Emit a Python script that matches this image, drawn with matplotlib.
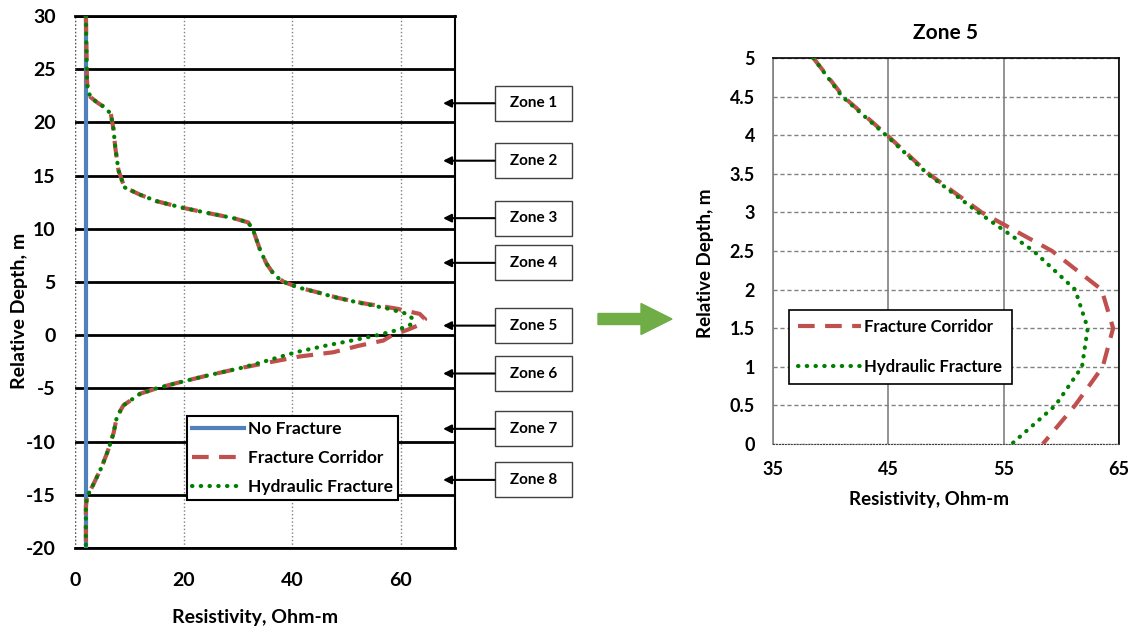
import matplotlib
matplotlib.use("Agg")
import matplotlib.pyplot as plt
from matplotlib.patches import Rectangle, FancyArrow
import numpy as np

plt.rcParams['font.family'] = ['Lato', 'DejaVu Sans']
plt.rcParams['font.weight'] = 'bold'
plt.rcParams['axes.unicode_minus'] = False

# ---- data ----
# upper part of the log (same for both fracture cases)
depth_top = [30, 27, 24, 23.3, 22.4, 21.9, 21.4, 20.8, 19.3, 17.7, 15.5, 13.9,
             13.2, 12.6, 12.0, 11.5, 11.0, 10.6, 9.9, 8.0, 6.7, 5.6]
res_top = [2.0, 2.1, 2.2, 2.3, 2.8, 4.0, 5.5, 6.6, 7.1, 7.4, 8.0, 9.1,
           12.0, 15.0, 19.6, 24.3, 29.2, 31.9, 32.8, 34.1, 35.3, 36.8]

# zone 5 detail
depth_z5 = [5.0, 4.5, 4.0, 3.5, 3.0, 2.5, 2.0, 1.5, 1.0, 0.5, 0.0]
corridor_z5 = [38.5, 41.1, 44.9, 48.5, 53.1, 59.2, 63.5, 64.5, 63.6, 61.2, 58.4]
hydraulic_z5 = [38.5, 41.0, 44.8, 48.4, 52.8, 57.6, 61.2, 62.3, 61.8, 59.5, 55.7]

# lower part of the log
depth_bot = [-0.5, -1.0, -1.6, -2.0, -2.6, -3.1, -3.8, -4.5, -5.0, -5.5, -6.6,
             -7.7, -9.2, -10.8, -12.4, -14.0, -15.2, -16.1, -18.0, -20.0]
corridor_bot = [56.8, 52.2, 47.6, 41.4, 35.3, 30.4, 24.3, 18.7, 15.0, 12.0, 8.9,
                7.7, 7.1, 6.1, 4.9, 3.4, 2.2, 2.0, 2.0, 2.0]
hydraulic_bot = [51.0, 46.0, 40.7, 38.0, 34.0, 30.4, 24.3, 18.7, 15.0, 12.0, 8.9,
                 7.7, 7.1, 6.1, 4.9, 3.4, 2.2, 2.0, 2.0, 2.0]

nofrac_depth = [30, -20]
nofrac_res = [2.0, 2.0]

zone_labels = ['Zone 1', 'Zone 2', 'Zone 3', 'Zone 4',
               'Zone 5', 'Zone 6', 'Zone 7', 'Zone 8']
zone_depths = [21.8, 16.4, 11.0, 6.8, 0.9, -3.6, -8.8, -13.6]

BLUE = '#4F81BD'
RED = '#C0504D'
GREEN = '#008000'

depth_all = depth_top + depth_z5 + depth_bot
corridor_all = res_top + corridor_z5 + corridor_bot
hydraulic_all = res_top + hydraulic_z5 + hydraulic_bot

fig = plt.figure(figsize=(11.35, 6.32), dpi=100)

# ---- left plot: full log ----
ax = fig.add_axes([0.0661, 0.1329, 0.3348, 0.8418])
ax.plot(nofrac_res, nofrac_depth, color=BLUE, lw=3, label='No Fracture', zorder=4)
ax.plot(corridor_all, depth_all, color=RED, lw=3, ls=(0, (4, 2.5)),
        label='Fracture Corridor', zorder=5)
ax.plot(hydraulic_all, depth_all, color=GREEN, lw=3.0, ls=(0, (0.1, 2.0)),
        dash_capstyle='round', label='Hydraulic Fracture', zorder=6)

ax.set_xlim(0, 70)
ax.set_ylim(-20, 30)
ax.set_xticks([0, 20, 40, 60])
ax.set_yticks(np.arange(-20, 31, 5))
ax.tick_params(axis='y', length=0, labelsize=14, pad=14)
ax.tick_params(axis='x', length=0, labelsize=14, pad=17)
for lab in ax.get_xticklabels() + ax.get_yticklabels():
    lab.set_fontweight('bold')
ax.xaxis.grid(True, color='#808080', ls=':', lw=1)
ax.yaxis.grid(True, color='black', ls='-', lw=2)
ax.set_axisbelow(True)
ax.spines['left'].set_visible(False)
ax.spines['top'].set_linewidth(2)
ax.spines['bottom'].set_linewidth(2)
ax.spines['right'].set_linewidth(1.5)
ax.axvline(0, color='#555555', ls=':', lw=1, zorder=1)
ax.set_xlabel('Resistivity, Ohm-m', fontsize=14, fontweight='bold')
ax.set_ylabel('Relative Depth, m', fontsize=14, fontweight='bold')
ax.xaxis.set_label_coords(0.474, -0.115)
ax.yaxis.set_label_coords(-0.125, 0.445)

leg = ax.legend(loc='lower left', bbox_to_anchor=(0.295, 0.09), fontsize=12.5,
                frameon=True, fancybox=False, edgecolor='black', framealpha=1,
                handlelength=3.0, borderpad=0.3, labelspacing=0.75,
                handletextpad=0.2, borderaxespad=0)
leg.get_frame().set_linewidth(1.5)
for t in leg.get_texts():
    t.set_fontweight('bold')

# zone boxes with arrows pointing at the log
box_x0, box_w, box_h = 77.3, 14.2, 3.3
for label, d in zip(zone_labels, zone_depths):
    ax.add_patch(Rectangle((box_x0, d - box_h / 2), box_w, box_h, fill=True,
                           facecolor='white', edgecolor='#404040', lw=1,
                           clip_on=False, zorder=10))
    ax.text(box_x0 + box_w / 2, d, label, ha='center', va='center',
            fontsize=11, fontweight='bold', clip_on=False, zorder=11)
    ax.annotate('', xy=(67.8, d), xytext=(box_x0, d),
                arrowprops=dict(arrowstyle='-|>', color='black', lw=1.5,
                                mutation_scale=12, shrinkA=0, shrinkB=0),
                annotation_clip=False, zorder=10)

# big green arrow between the plots
fig.patches.append(FancyArrow(598 / 1135, 1 - 319 / 632, 74 / 1135, 0,
                              width=11 / 632, head_width=31 / 632,
                              head_length=31 / 1135, length_includes_head=True,
                              color='#70AD47', transform=fig.transFigure,
                              figure=fig))

# ---- right plot: zone 5 detail ----
ax2 = fig.add_axes([0.681, 0.2975, 0.3048, 0.6108])
ax2.plot(corridor_z5, depth_z5, color=RED, lw=3, ls=(0, (4, 2.5)),
         label='Fracture Corridor', zorder=5)
ax2.plot(hydraulic_z5, depth_z5, color=GREEN, lw=3.0, ls=(0, (0.1, 2.0)),
         dash_capstyle='round', label='Hydraulic Fracture', zorder=6)
ax2.set_xlim(35, 65)
ax2.set_ylim(0, 5)
ax2.set_xticks([35, 45, 55, 65])
ax2.set_yticks(np.arange(0, 5.01, 0.5))
ax2.set_yticklabels(['0', '0.5', '1', '1.5', '2', '2.5', '3', '3.5', '4', '4.5', '5'])
ax2.tick_params(axis='y', length=0, labelsize=13, pad=13)
ax2.tick_params(axis='x', length=0, labelsize=13, pad=12)
for lab in ax2.get_xticklabels() + ax2.get_yticklabels():
    lab.set_fontweight('bold')
ax2.xaxis.grid(True, color='#808080', ls='-', lw=1.2)
ax2.yaxis.grid(True, color='#808080', ls=(0, (3, 2)), lw=1)
ax2.set_axisbelow(True)
for s in ['top', 'right']:
    ax2.spines[s].set_linewidth(1.2)
ax2.spines['left'].set_color('#808080')
ax2.spines['left'].set_linewidth(1.2)
ax2.spines['bottom'].set_linestyle(':')
ax2.spines['bottom'].set_color('#404040')
ax2.set_title('Zone 5', fontsize=15, fontweight='bold', pad=14)
ax2.set_xlabel('Resistivity, Ohm-m', fontsize=13.5, fontweight='bold')
ax2.set_ylabel('Relative Depth, m', fontsize=13.5, fontweight='bold')
ax2.xaxis.set_label_coords(0.451, -0.122)
ax2.yaxis.set_label_coords(-0.170, 0.469)

leg2 = ax2.legend(loc='lower left', bbox_to_anchor=(0.045, 0.155), fontsize=12,
                  frameon=True, fancybox=False, edgecolor='black', framealpha=1,
                  handlelength=3.8, borderpad=0.55, labelspacing=1.45,
                  handletextpad=0.2, borderaxespad=0)
leg2.get_frame().set_linewidth(1.2)
for t in leg2.get_texts():
    t.set_fontweight('bold')

fig.savefig('out.png', dpi=100)
